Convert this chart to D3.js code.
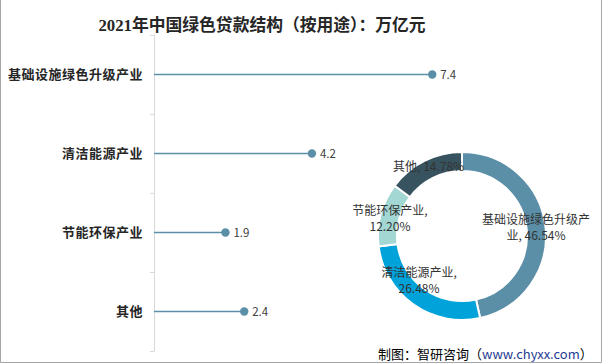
<!DOCTYPE html>
<html>
<head>
<meta charset="utf-8">
<script src="https://cdn.jsdelivr.net/npm/d3@7"></script>
<style>
  body { margin: 0; background: #fff; }
  svg { display: block; font-family: "Noto Sans CJK SC", "Noto Sans", sans-serif; }
</style>
</head>
<body>
<div id="chart"></div>
<script>
      // data
      var categories = ["基础设施绿色升级产业", "清洁能源产业", "节能环保产业", "其他"];
      var values = [7.4, 4.2, 1.9, 2.4];

      var pieNames = ["基础设施绿色升级产业", "清洁能源产业", "节能环保产业", "其他"];
      var pieShares = [46.54, 26.48, 12.20, 14.78];
      var pieColors = ["#5b8fa8", "#00a2da", "#a3d7d4", "#37535f"];

      var title = "2021年中国绿色贷款结构（按用途）：万亿元";

      var W = 605, H = 364;

      var svg = d3.select("#chart").append("svg")
          .attr("width", W)
          .attr("height", H);

      // frame
      svg.append("path")
          .attr("d", "M0.5,0 V362.5 H601.5 V0")
          .attr("fill", "none")
          .attr("stroke", "#a6a6a6")
          .attr("stroke-width", 1);

      svg.append("text")
          .attr("x", 262)
          .attr("y", 31)
          .attr("text-anchor", "middle")
          .attr("font-family", "'Liberation Serif', 'Noto Sans CJK SC', serif")
          .attr("font-weight", "bold")
          .attr("font-size", "16.8px")
          .attr("fill", "#262626")
          .text(title);

      ////// scales /////////////////
      var xScale = d3.scaleLinear()
          .domain([0, 8])
          .range([154, 454.8]);

      var yScale = d3.scaleBand()
          .domain(categories)
          .range([35, 351]);

      // axis line + ticks at band edges
      var axis = svg.append("g").attr("class", "y axis");
      axis.append("line")
          .attr("x1", 154.5).attr("x2", 154.5)
          .attr("y1", yScale.range()[0]).attr("y2", yScale.range()[1])
          .attr("stroke", "#d9d9d9");

      var edges = categories.map(function(c) { return yScale(c); });
      edges.push(yScale.range()[1]);
      axis.selectAll("line.tick")
          .data(edges)
          .enter()
          .append("line")
          .attr("class", "tick")
          .attr("x1", 150).attr("x2", 154.5)
          .attr("y1", function(d) { return Math.round(d) + 0.5; })
          .attr("y2", function(d) { return Math.round(d) + 0.5; })
          .attr("stroke", "#d9d9d9");

      // category labels
      var yAxis = d3.axisLeft(yScale).tickSize(0).tickPadding(11);
      var gy = svg.append("g")
          .attr("transform", "translate(154,0)")
          .call(yAxis);
      gy.select(".domain").remove();
      gy.selectAll("text")
          .attr("font-family", "'Noto Sans CJK SC', sans-serif")
          .attr("font-size", "13px")
          .attr("font-weight", "bold")
          .attr("letter-spacing", "0.5px")
          .attr("fill", "#262626");

      // lollipops
      var rows = categories.map(function(c, i) { return {name: c, value: values[i]}; });
      var lol = svg.append("g").attr("id", "lollipops");

      lol.selectAll("line")
          .data(rows)
          .enter()
          .append("line")
          .attr("x1", xScale(0))
          .attr("x2", function(d) { return xScale(d.value); })
          .attr("y1", function(d) { return yScale(d.name) + yScale.bandwidth() / 2; })
          .attr("y2", function(d) { return yScale(d.name) + yScale.bandwidth() / 2; })
          .attr("stroke", "#5b8fa8")
          .attr("stroke-width", 1.5);

      lol.selectAll("circle")
          .data(rows)
          .enter()
          .append("circle")
          .attr("cx", function(d) { return xScale(d.value); })
          .attr("cy", function(d) { return yScale(d.name) + yScale.bandwidth() / 2; })
          .attr("r", 4.2)
          .attr("fill", "#5b8fa8");

      lol.selectAll("text")
          .data(rows)
          .enter()
          .append("text")
          .attr("x", function(d) { return xScale(d.value) + 8; })
          .attr("y", function(d) { return yScale(d.name) + yScale.bandwidth() / 2; })
          .attr("dy", "0.35em")
          .attr("font-size", "11.5px")
          .attr("fill", "#404040")
          .text(function(d) { return d.value; });

      // donut
      var cx = 462, cy = 236, rOut = 84, rIn = 65;
      var pie = d3.pie().sort(null).value(function(d) { return d; });
      var arcs = pie(pieShares);
      var arc = d3.arc().innerRadius(rIn).outerRadius(rOut);

      var donut = svg.append("g")
          .attr("transform", "translate(" + cx + "," + cy + ")");

      donut.selectAll("path")
          .data(arcs)
          .enter()
          .append("path")
          .attr("d", arc)
          .attr("fill", function(d, i) { return pieColors[i]; })
          .attr("stroke", "#fff")
          .attr("stroke-width", 2);

      // label lines, wrapped like the original
      var labelLines = [
          ["基础设施绿色升级产", "业, " + pieShares[0].toFixed(2) + "%"],
          ["清洁能源产业,", pieShares[1].toFixed(2) + "%"],
          ["节能环保产业,", pieShares[2].toFixed(2) + "%"],
          [pieNames[3] + ", " + pieShares[3].toFixed(2) + "%"]
      ];
      var nudge = [0, -16, 2, -3];

      donut.selectAll("text.plab")
          .data(arcs)
          .enter()
          .append("text")
          .attr("class", "plab")
          .attr("text-anchor", "middle")
          .attr("font-size", "12px")
          .attr("fill", "#333")
          .each(function(d, i) {
              var c = arc.centroid(d);
              var lines = labelLines[i];
              var lh = 15.5;
              var y0 = c[1] + nudge[i] - (lines.length - 1) * lh / 2;
              var t = d3.select(this);
              lines.forEach(function(s, k) {
                  t.append("tspan")
                      .attr("x", c[0])
                      .attr("y", y0 + k * lh)
                      .attr("dy", "0.35em")
                      .text(s);
              });
          });

      // source
      var src = svg.append("text")
          .attr("x", 378)
          .attr("y", 354)
          .attr("dy", "0.35em")
          .attr("font-size", "13px")
          .attr("fill", "#000");
      src.append("tspan").text("制图：智研咨询（");
      src.append("tspan").attr("fill", "#1f3c93").text("www.chyxx.com");
      src.append("tspan").text("）");
</script>
</body>
</html>
